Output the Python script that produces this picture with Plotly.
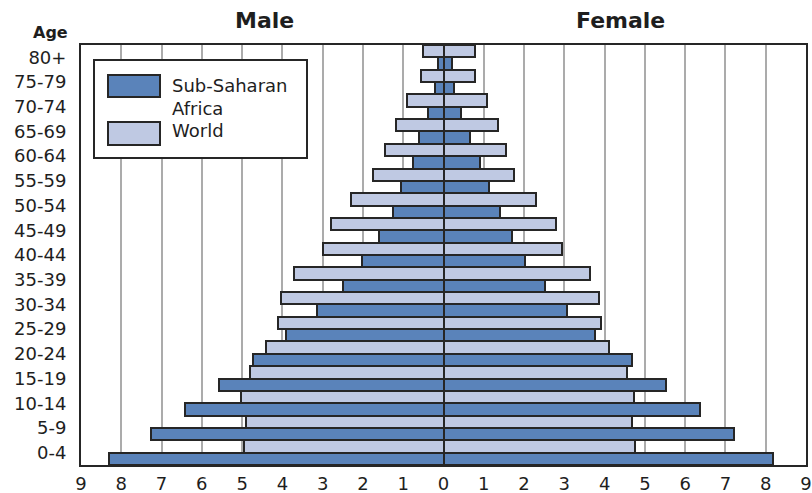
import plotly.graph_objects as go

age_groups = ["0-4", "5-9", "10-14", "15-19", "20-24", "25-29", "30-34", "35-39",
              "40-44", "45-49", "50-54", "55-59", "60-64", "65-69", "70-74", "75-79", "80+"]

ssa_male = [8.3, 7.25, 6.43, 5.58, 4.73, 3.9, 3.13, 2.5, 2.02, 1.6, 1.26, 1.05, 0.76, 0.62, 0.39, 0.2, 0.14]
ssa_female = [8.19, 7.2, 6.37, 5.53, 4.68, 3.77, 3.07, 2.52, 2.03, 1.7, 1.41, 1.12, 0.91, 0.65, 0.44, 0.27, 0.2]
world_male = [4.96, 4.9, 5.02, 4.81, 4.4, 4.11, 4.04, 3.7, 3.0, 2.79, 2.29, 1.75, 1.46, 1.17, 0.91, 0.55, 0.5]
world_female = [4.76, 4.68, 4.74, 4.55, 4.12, 3.91, 3.85, 3.64, 2.95, 2.8, 2.3, 1.76, 1.56, 1.35, 1.07, 0.77, 0.77]

tick_values = list(range(-9, 10))
tick_text = [str(abs(v)) for v in tick_values]

DARK = "#5a83ba"
LIGHT = "#bfc9e3"
EDGE = "#262626"
FONT = "DejaVu Sans, sans-serif"

fig = go.Figure()
for name, vals, col, grp, sign in [
    ("Sub-Saharan Africa", ssa_male, DARK, "ssa", -1),
    ("Sub-Saharan Africa", ssa_female, DARK, "ssa", 1),
    ("World", world_male, LIGHT, "world", -1),
    ("World", world_female, LIGHT, "world", 1),
]:
    fig.add_trace(go.Bar(
        y=age_groups, x=[sign * v for v in vals], orientation="h", name=name,
        offsetgroup=grp, marker=dict(color=col, line=dict(color=EDGE, width=2)),
        showlegend=False,
    ))

# plot area in screen pixels (page margin removed by post_script)
FW, FH = 812, 493
L, R, T, B = 81, 806, 45, 465
W, H = R - L, B - T
def px(x):
    return (x - L) / W
def py(y):
    return 1 - (y - T) / H

fig.update_layout(
    width=FW, height=FH,
    margin=dict(l=L, r=FW - R, t=T, b=FH - B),
    barmode="group", bargap=0, bargroupgap=0,
    plot_bgcolor="white", paper_bgcolor="white",
    font=dict(family=FONT, size=18, color="#1e1e1e"),
    xaxis=dict(range=[-9, 9], tickvals=tick_values, ticktext=tick_text,
               showgrid=True, gridcolor="#ababab", gridwidth=2,
               zeroline=False, showline=True, linecolor=EDGE, linewidth=2, mirror=True,
               ticks="", ticklabelstandoff=1, tickfont=dict(size=18), automargin=False,
               ticklabeloverflow="allow"),
    yaxis=dict(categoryorder="array", categoryarray=age_groups, range=[-0.5, 16.5],
               showgrid=False, zeroline=False, showline=True, linecolor=EDGE,
               linewidth=2, mirror=True, ticks="", ticklabelstandoff=9,
               tickfont=dict(size=18), automargin=False),
    shapes=[
        dict(type="rect", xref="paper", yref="paper", x0=px(94), x1=px(307), y0=py(158), y1=py(60),
             line=dict(color=EDGE, width=2), fillcolor="white", layer="above"),
        dict(type="rect", xref="paper", yref="paper", x0=px(108), x1=px(160), y0=py(97), y1=py(75),
             line=dict(color=EDGE, width=2), fillcolor=DARK, layer="above"),
        dict(type="rect", xref="paper", yref="paper", x0=px(108), x1=px(160), y0=py(145), y1=py(122),
             line=dict(color=EDGE, width=2), fillcolor=LIGHT, layer="above"),
    ],
    annotations=[
        dict(text="<b>Male</b>", xref="paper", yref="paper", x=px(264), y=py(21),
             showarrow=False, font=dict(size=22), xanchor="center", yanchor="middle"),
        dict(text="<b>Female</b>", xref="paper", yref="paper", x=px(620), y=py(21),
             showarrow=False, font=dict(size=22), xanchor="center", yanchor="middle"),
        dict(text="<b>Age</b>", xref="paper", yref="paper", x=px(70), y=py(32),
             showarrow=False, font=dict(size=16), xanchor="right", yanchor="middle"),
        dict(text="Sub-Saharan", xref="paper", yref="paper", x=px(170), y=py(85),
             showarrow=False, font=dict(size=18), xanchor="left", yanchor="middle"),
        dict(text="Africa", xref="paper", yref="paper", x=px(170), y=py(108),
             showarrow=False, font=dict(size=18), xanchor="left", yanchor="middle"),
        dict(text="World", xref="paper", yref="paper", x=px(170), y=py(131),
             showarrow=False, font=dict(size=18), xanchor="left", yanchor="middle"),
    ],
)

fig.write_html(
    "out.html",
    config={"displayModeBar": False},
    post_script="document.body.style.margin='0';document.body.style.overflow='hidden';",
)
